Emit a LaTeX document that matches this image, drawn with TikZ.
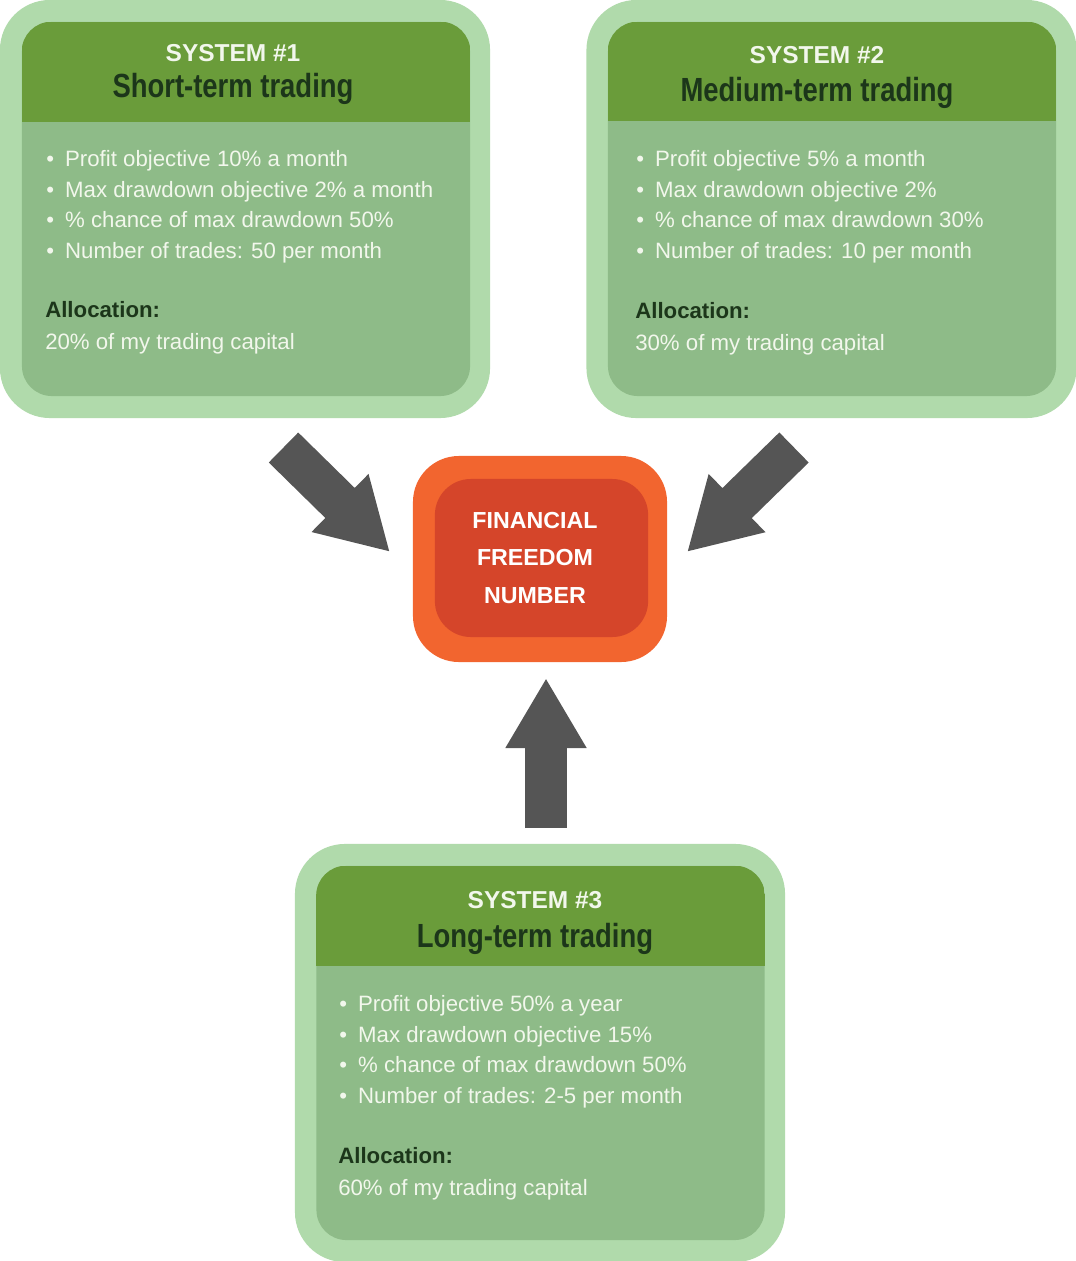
\documentclass[tikz,border=0pt]{standalone}
\usepackage{fontspec}
\setmainfont{Liberation Sans}
\newfontfamily\narrowfont{Liberation Sans}[FakeStretch=0.82]
\usetikzlibrary{arrows.meta, positioning}
\definecolor{chalo}{HTML}{B0DAAB}
\definecolor{cbody}{HTML}{8EBB88}
\definecolor{chead}{HTML}{6A9C3A}
\definecolor{cdark}{HTML}{1C361A}
\definecolor{clight}{HTML}{F2F7EC}
\definecolor{corange}{HTML}{F2652F}
\definecolor{cred}{HTML}{D5452A}
\definecolor{cgrey}{HTML}{555555}
\tikzset{
  halo/.style={fill=chalo, rounded corners=1.25cm, minimum width=12.25cm, minimum height=10.45cm, inner sep=0pt},
  panel/.style={fill=cbody, rounded corners=0.75cm, minimum width=11.2cm, minimum height=9.35cm, inner sep=0pt},
  systitle/.style={font=\bfseries\fontsize{17.4}{20}\selectfont, text=clight, anchor=base, inner sep=0pt},
  syssub/.style={font=\narrowfont\bfseries\fontsize{23.8}{26}\selectfont, text=cdark, anchor=base, inner sep=0pt},
  points/.style={font=\fontsize{15.8}{21.8}\selectfont, text=clight, align=left, anchor=north west, inner sep=0pt},
  alloc/.style={font=\fontsize{15.8}{22.6}\selectfont, text=clight, align=left, anchor=north west, inner sep=0pt},
  goal/.style={fill=cred, rounded corners=0.9cm, minimum width=5.33cm, minimum height=3.95cm, inner sep=0pt,
    font=\bfseries\fontsize{16.5}{27}\selectfont, text=white, align=center},
  bigarrow/.style={-{Triangle[width=1.9cm, length=1.75cm]}, draw=cgrey, line width=1.05cm},
}

\begin{document}
\begin{tikzpicture}[x=0.025cm, y=-0.025cm]
  \useasboundingbox (0,0) rectangle (1076,1261);

  % system 1
  \node[halo] (sys1halo) at (245,209) {};
  \node[panel] (sys1) at (246,209) {};
  \begin{scope}
    \clip[rounded corners=0.75cm] (sys1.south west) rectangle (sys1.north east);
    \fill[chead] (sys1.north west) rectangle (470,122);
  \end{scope}
  \node[systitle] (sys1title) at (233,62) {SYSTEM \#1};
  \node[syssub] (sys1sub) at (233,98) {Short-term trading};
  \node[points] (sys1pts) at (46,150) {\textbullet\enspace Profit objective 10\% a month\\
    \textbullet\enspace Max drawdown objective 2\% a month\\
    \textbullet\enspace \% chance of max drawdown 50\%\\
    \textbullet\enspace Number of trades: 50 per month};
  \node[alloc] (sys1alloc) at (45,301) {{\color{cdark}\bfseries Allocation:}\\
    20\% of my trading capital};

  % system 2
  \node[halo] (sys2halo) at (831.5,209) {};
  \node[panel] (sys2) at (832,209) {};
  \begin{scope}
    \clip[rounded corners=0.75cm] (sys2.south west) rectangle (sys2.north east);
    \fill[chead] (sys2.north west) rectangle (1056,121);
  \end{scope}
  \node[systitle] (sys2title) at (817,64) {SYSTEM \#2};
  \node[syssub] (sys2sub) at (817,102) {Medium-term trading};
  \node[points] (sys2pts) at (636,150) {\textbullet\enspace Profit objective 5\% a month\\
    \textbullet\enspace Max drawdown objective 2\%\\
    \textbullet\enspace \% chance of max drawdown 30\%\\
    \textbullet\enspace Number of trades: 10 per month};
  \node[alloc] (sys2alloc) at (635,302) {{\color{cdark}\bfseries Allocation:}\\
    30\% of my trading capital};

  % system 3
  \node[halo] (sys3halo) at (540,1053) {};
  \node[panel] (sys3) at (540.5,1053) {};
  \begin{scope}
    \clip[rounded corners=0.75cm] (sys3.south west) rectangle (sys3.north east);
    \fill[chead] (sys3.north west) rectangle (765,966);
  \end{scope}
  \node[systitle] (sys3title) at (535,908) {SYSTEM \#3};
  \node[syssub] (sys3sub) at (535,947) {Long-term trading};
  \node[points] (sys3pts) at (339,995) {\textbullet\enspace Profit objective 50\% a year\\
    \textbullet\enspace Max drawdown objective 15\%\\
    \textbullet\enspace \% chance of max drawdown 50\%\\
    \textbullet\enspace Number of trades: 2-5 per month};
  \node[alloc] (sys3alloc) at (338,1147) {{\color{cdark}\bfseries Allocation:}\\
    60\% of my trading capital};

  % goal in the middle
  \node[fill=corange, rounded corners=1.15cm, minimum width=6.35cm, minimum height=5.15cm] (ffnring) at (540,559) {};
  \node[goal] (ffn) at (541.5,558) {};
  \node[text=white, font=\bfseries\fontsize{16.5}{27}\selectfont, align=center, inner sep=0pt] (ffntext) at (535,558)
    {FINANCIAL\\FREEDOM\\NUMBER};

  % arrows into the goal
  \coordinate (in1) at (283.5,447.5);
  \coordinate (tip1) at (390,552);
  \coordinate (in2) at (794,447.5);
  \coordinate (tip2) at (687,552);
  \coordinate (in3) at (546,828);
  \coordinate (tip3) at (546,678);
  \draw[bigarrow] (in1) -- (tip1);
  \draw[bigarrow] (in2) -- (tip2);
  \draw[bigarrow] (in3) -- (tip3);
\end{tikzpicture}
\end{document}
